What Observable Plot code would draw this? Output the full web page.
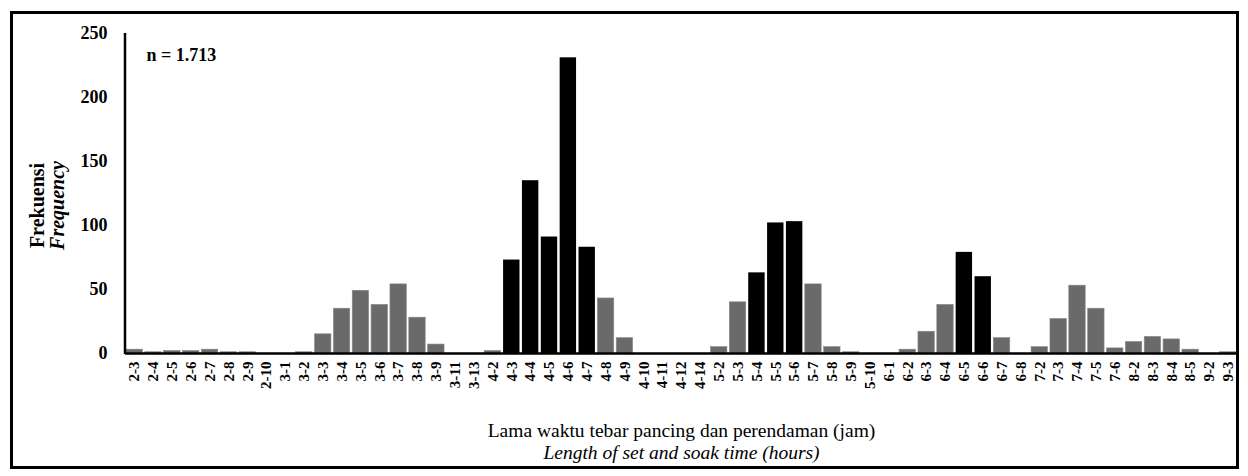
<!DOCTYPE html>
<html>
<head>
<meta charset="utf-8">
<script src="https://cdn.jsdelivr.net/npm/d3@7"></script>
<script src="https://cdn.jsdelivr.net/npm/@observablehq/plot@0.6"></script>
<style>
  html, body { margin: 0; padding: 0; background: #fff; }
  #wrap { position: relative; width: 1248px; height: 476px; overflow: hidden; }
  #border { position: absolute; left: 10px; top: 11px; width: 1223px; height: 452px; border: 3px solid #000; }
  #chart { position: absolute; left: 0; top: 0; }
</style>
</head>
<body>
<div id="wrap"><div id="border"></div><div id="chart"></div></div>
<script>
const categories = ["2-3","2-4","2-5","2-6","2-7","2-8","2-9","2-10","3-1","3-2","3-3","3-4","3-5","3-6","3-7","3-8","3-9","3-11","3-13","4-2","4-3","4-4","4-5","4-6","4-7","4-8","4-9","4-10","4-11","4-12","4-14","5-2","5-3","5-4","5-5","5-6","5-7","5-8","5-9","5-10","6-1","6-2","6-3","6-4","6-5","6-6","6-7","6-8","7-2","7-3","7-4","7-5","7-6","8-2","8-3","8-4","8-5","9-2","9-3"];
const frequency = [3,1,2,2,3,1,1,0,0,1,15,35,49,38,54,28,7,0,0,2,73,135,91,231,83,43,12,0,0,0,0,5,40,63,102,103,54,5,1,0,0,3,17,38,79,60,12,0,5,27,53,35,4,9,13,11,3,0,1];
const dominant = ["4-3","4-4","4-5","4-6","4-7","5-4","5-5","5-6","6-5","6-6"];
const yTicks = [0,50,100,150,200,250];
const sampleNote = "n = 1.713";
const yTitle = ["Frekuensi", "Frequency"];
const xTitle = ["Lama waktu tebar pancing dan perendaman (jam)", "Length of set and soak time (hours)"];

const data = categories.map((c, i) => ({cat: c, value: frequency[i], dom: dominant.includes(c)}));
const serif = "'Liberation Serif', 'Times New Roman', serif";

const yAxisLine = (index, scales, values, dims) => {
  const g = d3.create("svg:line")
    .attr("x1", dims.marginLeft).attr("x2", dims.marginLeft)
    .attr("y1", dims.marginTop).attr("y2", dims.height - dims.marginBottom + 1)
    .attr("stroke", "#000").attr("stroke-width", 2.5);
  return g.node();
};

const chart = Plot.plot({
  width: 1248,
  height: 476,
  marginLeft: 125,
  marginRight: 11,
  marginTop: 33,
  marginBottom: 123,
  style: {fontFamily: serif, background: "transparent"},
  x: {type: "band", domain: categories, paddingInner: 0.13, paddingOuter: 0.05},
  y: {domain: [0, 250]},
  marks: [
    Plot.barY(data, {x: "cat", y: "value", fill: d => d.dom ? "#000" : "#6a6a6a", stroke: d => d.dom ? "none" : "#8a8a8a", strokeWidth: 0.6}),
    Plot.ruleY([0], {stroke: "#000", strokeWidth: 2.5}),
    yAxisLine,
    Plot.axisY({ticks: yTicks, tickSize: 0, tickPadding: 18, fontSize: 18, fontWeight: "bold", label: null}),
    Plot.axisX({tickSize: 0, tickPadding: 8, tickRotate: -90, fontSize: 15, fontWeight: "bold", label: null}),
    Plot.text([sampleNote], {frameAnchor: "top-left", dx: 21, dy: 15, textAnchor: "start", fontSize: 18, fontWeight: "bold"}),
    Plot.text([yTitle[0]], {frameAnchor: "left", dx: -88, dy: 12, textAnchor: "middle", rotate: -90, fontSize: 20, fontWeight: "bold"}),
    Plot.text([yTitle[1]], {frameAnchor: "left", dx: -68, dy: 12, textAnchor: "middle", rotate: -90, fontSize: 20, fontWeight: "bold", fontStyle: "italic"}),
    Plot.text([xTitle[0]], {frameAnchor: "bottom", dy: 83, fontSize: 19.5}),
    Plot.text([xTitle[1]], {frameAnchor: "bottom", dy: 105, fontSize: 19.5, fontStyle: "italic"})
  ]
});
document.getElementById("chart").appendChild(chart);
</script>
</body>
</html>
